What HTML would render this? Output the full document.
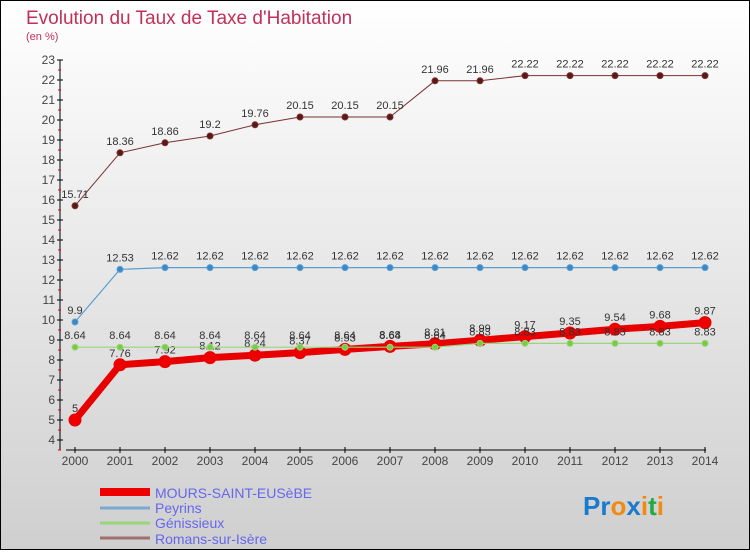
<!DOCTYPE html>
<html><head><meta charset="utf-8"><style>
html,body{margin:0;padding:0}
body{width:750px;height:550px;overflow:hidden;font-family:"Liberation Sans",sans-serif}
</style></head><body>
<svg id="chart" width="750" height="550" xmlns="http://www.w3.org/2000/svg" font-family="Liberation Sans, sans-serif">
<defs><linearGradient id="bg" x1="0" y1="0" x2="0" y2="1"><stop offset="0" stop-color="#ffffff"/><stop offset="1" stop-color="#cfcfcf"/></linearGradient></defs>
<rect x="0.5" y="0.5" width="749" height="549" fill="url(#bg)" stroke="#000"/>
<text x="26" y="24" font-size="19" fill="#c2305a">Evolution du Taux de Taxe d'Habitation</text>
<text x="26" y="40" font-size="11" fill="#c2305a">(en %)</text>
<g id="axes"></g>
<g id="series"></g>
<g font-size="14" fill="#6666ee">
<line x1="100" y1="492" x2="150" y2="492" stroke="#e00" stroke-width="8"/>
<text x="155" y="498">MOURS-SAINT-EUSèBE</text>
<line x1="100" y1="508" x2="150" y2="508" stroke="#7aaad0" stroke-width="3"/>
<text x="155" y="513">Peyrins</text>
<line x1="100" y1="523" x2="150" y2="523" stroke="#99d57a" stroke-width="3"/>
<text x="155" y="528">Génissieux</text>
<line x1="100" y1="538" x2="150" y2="538" stroke="#a07070" stroke-width="3"/>
<text x="155" y="544">Romans-sur-Isère</text>
</g>
<g font-size="26" font-weight="bold">
<text x="583" y="515"><tspan fill="#1a7acc">Pr</tspan><tspan fill="#f08a10">o</tspan><tspan fill="#1a7acc">x</tspan><tspan fill="#f08a10">i</tspan><tspan fill="#22aa44">t</tspan><tspan fill="#f08a10">i</tspan></text>
</g>
</svg>
<script>
const years=[2000,2001,2002,2003,2004,2005,2006,2007,2008,2009,2010,2011,2012,2013,2014];
const mours=[5,7.76,7.92,8.12,8.24,8.37,8.53,8.68,8.81,8.99,9.17,9.35,9.54,9.68,9.87];
const peyrins=[9.9,12.53,12.62,12.62,12.62,12.62,12.62,12.62,12.62,12.62,12.62,12.62,12.62,12.62,12.62];
const genissieux=[8.64,8.64,8.64,8.64,8.64,8.64,8.64,8.64,8.64,8.83,8.83,8.83,8.83,8.83,8.83];
const romans=[15.71,18.36,18.86,19.2,19.76,20.15,20.15,20.15,21.96,21.96,22.22,22.22,22.22,22.22,22.22];
const yTicks=[4,5,6,7,8,9,10,11,12,13,14,15,16,17,18,19,20,21,22,23];
const NS="http://www.w3.org/2000/svg";
const xS=i=>75+i*45;
const yS=v=>440-(v-4)*20;
function mk(tag,attrs,parent){const e=document.createElementNS(NS,tag);for(const k in attrs)e.setAttribute(k,attrs[k]);parent.appendChild(e);return e;}
const axes=document.getElementById('axes');
const ya=mk('line',{x1:60,y1:60,x2:60,y2:450,stroke:'#000'},axes);


const xa=mk('line',{x1:66,y1:450,x2:706,y2:450,stroke:'#000'},axes);


yTicks.forEach(v=>{
  const y=yS(v);
  mk('line',{x1:57,y1:y,x2:63,y2:y,stroke:'#000'},axes);
  mk('line',{x1:58,y1:y+10,x2:61,y2:y+10,stroke:'#e00'},axes);
  const t=mk('text',{x:55,y:y+4,'font-size':12,fill:'#444','text-anchor':'end'},axes);
  t.textContent=v;
  
  
});
years.forEach((yr,i)=>{
  mk('line',{x1:xS(i),y1:447,x2:xS(i),y2:453,stroke:'#000'},axes);
  const t=mk('text',{x:xS(i),y:465,'font-size':12,fill:'#444','text-anchor':'middle'},axes);
  t.textContent=yr;
  
  
});
const sg=document.getElementById('series');
function draw(vals,name,color,lw,r,fill,dy){
  const g=mk('g',{},sg);
  
  
  const p=mk('polyline',{points:vals.map((v,i)=>xS(i)+','+yS(v)).join(' '),fill:'none',stroke:color,'stroke-width':lw,'stroke-linejoin':'round'},g);
  
  
  vals.forEach((v,i)=>{
    const c=mk('circle',{cx:xS(i),cy:yS(v),r:r,fill:fill,stroke:color,'stroke-width':1},g);
    
    
    const t=mk('text',{x:xS(i),y:yS(v)+dy,'font-size':11,fill:'#333','text-anchor':'middle'},g);
    t.textContent=v;
    
    
  });
}
draw(romans,'romans','#7a3030',1,3,'#5a1818',-8);
draw(peyrins,'peyrins','#5a9fd0',1.2,3,'#3a88c8',-8);
draw(mours,'mours','#e80000',7,6,'#ee0000',-8);
draw(genissieux,'genissieux','#99d57a',1.2,3,'#77cc44',-8);
</script>
</body></html>
